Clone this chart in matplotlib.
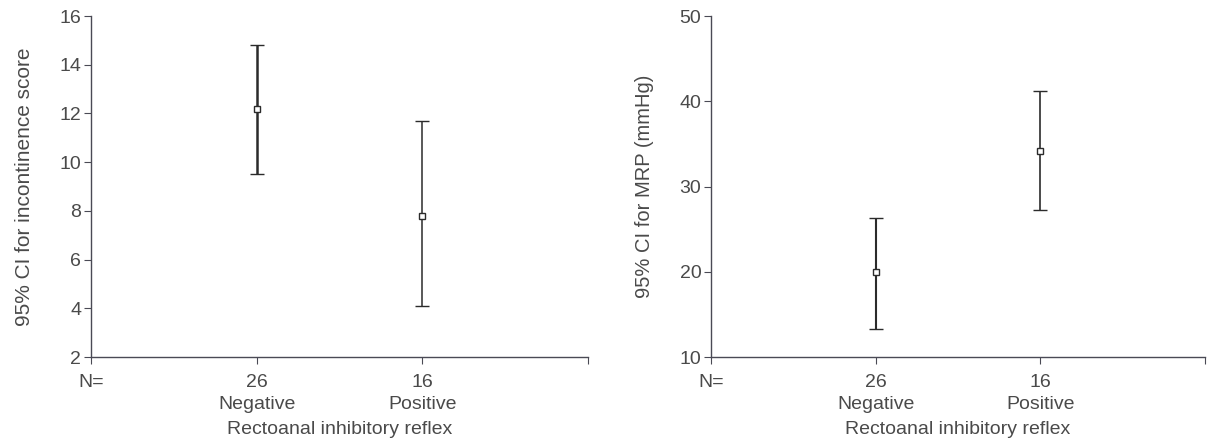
import matplotlib
matplotlib.use("Agg")
import matplotlib.pyplot as plt
import numpy as np

plt.rcParams['font.family'] = ['Liberation Sans', 'DejaVu Sans']

categories = ["Negative", "Positive"]
n_counts = [26, 16]

# Left panel: incontinence score
inc_mean = [12.2, 7.8]
inc_lower = [9.5, 4.1]
inc_upper = [14.8, 11.7]
inc_yticks = [2, 4, 6, 8, 10, 12, 14, 16]

# Right panel: MRP (mmHg)
mrp_mean = [20.0, 34.2]
mrp_lower = [13.3, 27.3]
mrp_upper = [26.3, 41.2]
mrp_yticks = [10, 20, 30, 40, 50]

text_color = "#4a4a4a"
line_color = "#2b2b2b"
spine_color = "#4a4a55"
fs = 14

fig = plt.figure(figsize=(12.08, 4.45), dpi=100)
ax1 = fig.add_axes([91/1208, 1-357/445, 497/1208, 341/445])
ax2 = fig.add_axes([711/1208, 1-357/445, 494/1208, 341/445])

def panel(ax, mean, lower, upper, yticks, ylabel, lws, labelpad, yfs):
    x = np.arange(1, len(categories) + 1)
    for xi, m, lo, hi, lw in zip(x, mean, lower, upper, lws):
        ax.errorbar([xi], [m], yerr=[[m - lo], [hi - m]], fmt='s', color=line_color,
                    ecolor=line_color, elinewidth=lw, capsize=5, capthick=lw,
                    markersize=5, markerfacecolor='white', markeredgecolor=line_color,
                    markeredgewidth=1.0)
    ax.set_xlim(0, 3)
    ax.set_ylim(yticks[0], yticks[-1])
    ax.set_yticks(yticks)
    ax.set_xticks([0, 1, 2, 3])
    labels = ["N=\n "] + [f"{n}\n{c}" for n, c in zip(n_counts, categories)] + [""]
    ax.set_xticklabels(labels, color=text_color, fontsize=fs, linespacing=1.42)
    ax.tick_params(axis='y', labelsize=fs, labelcolor=text_color, length=5, color=spine_color, pad=2)
    ax.tick_params(axis='x', length=5, color=spine_color, pad=7)
    for s in ['top', 'right']:
        ax.spines[s].set_visible(False)
    for s in ['left', 'bottom']:
        ax.spines[s].set_color(spine_color)
        ax.spines[s].set_linewidth(1.0)
    ax.set_xlabel("Rectoanal inhibitory reflex", fontsize=fs, color=text_color, labelpad=6)
    ax.set_ylabel(ylabel, fontsize=yfs, color=text_color, labelpad=labelpad)

panel(ax1, inc_mean, inc_lower, inc_upper, inc_yticks, "95% CI for incontinence score", [1.8, 1.1], 18, 15)
panel(ax2, mrp_mean, mrp_lower, mrp_upper, mrp_yticks, "95% CI for MRP (mmHg)", [1.5, 1.2], 18, 14.5)

fig.savefig("out.png", dpi=100, facecolor="white")
